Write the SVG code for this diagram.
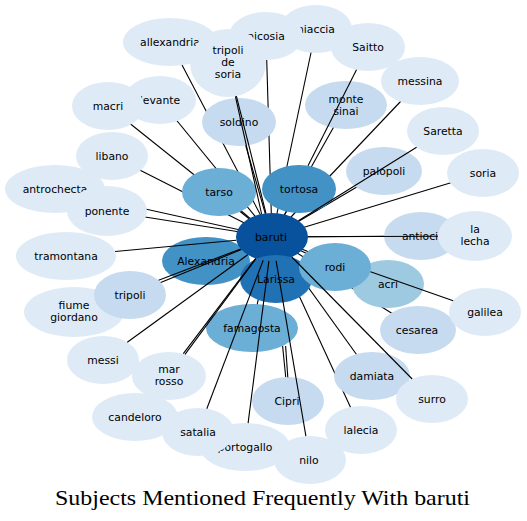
<svg xmlns="http://www.w3.org/2000/svg" width="527" height="521" viewBox="0 0 527 521">
<style>
.e line{stroke:#000;stroke-width:1.1;fill:none}
.n text{font-family:"DejaVu Sans",sans-serif;font-size:10.8px;fill:#000;text-anchor:middle}
.c1{fill:#08519c}.c2{fill:#2171b5}.c3{fill:#4292c6}.c4{fill:#6baed6}.c5{fill:#9ecae1}.c6{fill:#c6dbef}.c7{fill:#deebf7}
.title{font-family:"Liberation Serif","Times New Roman",serif;font-size:22px;fill:#000;text-anchor:middle}
</style>
<rect width="527" height="521" fill="#fff"/>
<g id="connectors-back" class="e">
<line x1="272" y1="237" x2="170" y2="42"/>
<line x1="272" y1="237" x2="160" y2="100"/>
<line x1="272" y1="237" x2="108" y2="106"/>
<line x1="272" y1="237" x2="112" y2="156"/>
<line x1="272" y1="237" x2="55" y2="189"/>
<line x1="272" y1="237" x2="107" y2="211"/>
<line x1="272" y1="237" x2="239" y2="122"/>
<line x1="272" y1="237" x2="219" y2="192"/>
<line x1="272" y1="237" x2="299" y2="189"/>
<line x1="272" y1="237" x2="266" y2="36"/>
<line x1="272" y1="237" x2="316" y2="29"/>
<line x1="272" y1="237" x2="346" y2="105"/>
<line x1="272" y1="237" x2="420" y2="81"/>
<line x1="272" y1="237" x2="384" y2="171"/>
<line x1="272" y1="237" x2="483" y2="173"/>
<line x1="272" y1="237" x2="421" y2="236"/>
<line x1="272" y1="237" x2="335" y2="267"/>
<line x1="272" y1="237" x2="388" y2="284"/>
<line x1="272" y1="237" x2="418" y2="330"/>
<line x1="272" y1="237" x2="206" y2="261"/>
<line x1="272" y1="237" x2="276" y2="279"/>
<line x1="272" y1="237" x2="252" y2="328"/>
<line x1="272" y1="237" x2="372" y2="376"/>
<line x1="272" y1="237" x2="361" y2="430"/>
</g>
<g id="nodes" class="n">
<g id="n-niaccia"><ellipse class="c7" cx="316" cy="29" rx="36" ry="24"/><text x="316" y="33">niaccia</text></g>
<g id="n-nicosia"><ellipse class="c7" cx="266" cy="36" rx="37" ry="24"/><text x="266" y="40">nicosia</text></g>
<g id="n-allexandria"><ellipse class="c7" cx="170" cy="42" rx="47" ry="24"/><text x="170" y="46">allexandria</text></g>
<g id="n-tripoli-de-soria"><ellipse class="c7" cx="228" cy="63" rx="38" ry="34"/><text x="228" y="54">tripoli</text><text x="228" y="66">de</text><text x="228" y="78">soria</text></g>
<g id="n-saitto"><ellipse class="c7" cx="368" cy="47" rx="37" ry="24"/><text x="368" y="51">Saitto</text></g>
<g id="n-messina"><ellipse class="c7" cx="420" cy="81" rx="39" ry="24"/><text x="420" y="85">messina</text></g>
<g id="n-monte-sinai"><ellipse class="c6" cx="346" cy="105" rx="41" ry="24"/><text x="346" y="103">monte</text><text x="346" y="115">sinai</text></g>
<g id="n-saretta"><ellipse class="c7" cx="443" cy="131" rx="36" ry="24"/><text x="443" y="135">Saretta</text></g>
<g id="n-palopoli"><ellipse class="c6" cx="384" cy="171" rx="38" ry="24"/><text x="384" y="175">palopoli</text></g>
<g id="n-soria"><ellipse class="c7" cx="483" cy="173" rx="36" ry="24"/><text x="483" y="177">soria</text></g>
<g id="n-soldino"><ellipse class="c6" cx="239" cy="122" rx="37" ry="24"/><text x="239" y="126">soldino</text></g>
<g id="n-levante"><ellipse class="c7" cx="160" cy="100" rx="36" ry="24"/><text x="160" y="104">levante</text></g>
<g id="n-macri"><ellipse class="c7" cx="108" cy="106" rx="36" ry="24"/><text x="108" y="110">macri</text></g>
<g id="n-libano"><ellipse class="c7" cx="112" cy="156" rx="36" ry="24"/><text x="112" y="160">libano</text></g>
<g id="n-antrochecta"><ellipse class="c7" cx="55" cy="189" rx="50" ry="24"/><text x="55" y="193">antrochecta</text></g>
<g id="n-ponente"><ellipse class="c7" cx="107" cy="211" rx="40" ry="25"/><text x="107" y="215">ponente</text></g>
<g id="n-tarso"><ellipse class="c4" cx="219" cy="192" rx="37" ry="24"/><text x="219" y="196">tarso</text></g>
<g id="n-tortosa"><ellipse class="c3" cx="299" cy="189" rx="37" ry="24"/><text x="299" y="193">tortosa</text></g>
<g id="n-tramontana"><ellipse class="c7" cx="66" cy="256" rx="50" ry="24"/><text x="66" y="260">tramontana</text></g>
<g id="n-fiume-giordano"><ellipse class="c7" cx="74" cy="312" rx="50" ry="25"/><text x="74" y="309">fiume</text><text x="74" y="321">giordano</text></g>
<g id="n-tripoli"><ellipse class="c6" cx="130" cy="295" rx="36" ry="24"/><text x="130" y="299">tripoli</text></g>
<g id="n-alexandria"><ellipse class="c3" cx="206" cy="261" rx="44" ry="24"/><text x="206" y="265">Alexandria</text></g>
<g id="n-baruti"><ellipse class="c1" cx="272" cy="237" rx="36" ry="24"/><text x="271" y="241">baruti</text></g>
<g id="n-larissa"><ellipse class="c2" cx="276" cy="279" rx="36" ry="24"/><text x="276" y="283">Larissa</text></g>
<g id="n-acri"><ellipse class="c5" cx="388" cy="284" rx="36" ry="24"/><text x="388" y="288">acri</text></g>
<g id="n-rodi"><ellipse class="c4" cx="335" cy="267" rx="36" ry="24"/><text x="335" y="271">rodi</text></g>
<g id="n-antioci"><ellipse class="c6" cx="421" cy="236" rx="37" ry="24"/><text x="420" y="240">antioci</text></g>
<g id="n-la-lecha"><ellipse class="c7" cx="475" cy="236" rx="37" ry="25"/><text x="475" y="233">la</text><text x="475" y="245">lecha</text></g>
<g id="n-cesarea"><ellipse class="c6" cx="418" cy="330" rx="38" ry="24"/><text x="417" y="334">cesarea</text></g>
<g id="n-galilea"><ellipse class="c7" cx="485" cy="312" rx="36" ry="24"/><text x="485" y="316">galilea</text></g>
<g id="n-famagosta"><ellipse class="c4" cx="252" cy="328" rx="46" ry="24"/><text x="252" y="332">famagosta</text></g>
<g id="n-messi"><ellipse class="c7" cx="103" cy="360" rx="36" ry="24"/><text x="103" y="364">messi</text></g>
<g id="n-candeloro"><ellipse class="c7" cx="135" cy="417" rx="43" ry="24"/><text x="135" y="421">candeloro</text></g>
<g id="n-mar-rosso"><ellipse class="c7" cx="169" cy="376" rx="37" ry="24"/><text x="169" y="373">mar</text><text x="169" y="385">rosso</text></g>
<g id="n-portogallo"><ellipse class="c7" cx="245" cy="447" rx="45" ry="24"/><text x="245" y="451">portogallo</text></g>
<g id="n-satalia"><ellipse class="c7" cx="198" cy="432" rx="36" ry="24"/><text x="198" y="436">satalia</text></g>
<g id="n-cipri"><ellipse class="c6" cx="288" cy="401" rx="36" ry="24"/><text x="287" y="405">Cipri</text></g>
<g id="n-nilo"><ellipse class="c7" cx="310" cy="460" rx="36" ry="24"/><text x="309" y="464">nilo</text></g>
<g id="n-lalecia"><ellipse class="c7" cx="361" cy="430" rx="36" ry="24"/><text x="361" y="434">lalecia</text></g>
<g id="n-damiata"><ellipse class="c6" cx="372" cy="376" rx="38" ry="24"/><text x="372" y="380">damiata</text></g>
<g id="n-surro"><ellipse class="c7" cx="432" cy="399" rx="36" ry="24"/><text x="432" y="403">surro</text></g>
</g>
<g id="connectors-front" class="e">
<line x1="236.4" y1="96.2" x2="266" y2="213.3"/>
<line x1="235.4" y1="96.4" x2="261.6" y2="214"/>
<line x1="356.5" y1="69.8" x2="308" y2="165.8"/>
<line x1="416.6" y1="147.3" x2="298.4" y2="220.7"/>
<line x1="438" y1="236.2" x2="308" y2="236.8"/>
<line x1="370.5" y1="271.7" x2="453.2" y2="300.8"/>
<line x1="291.8" y1="257" x2="412.2" y2="379"/>
<line x1="276.1" y1="260.8" x2="305.9" y2="436.2"/>
<line x1="282.6" y1="346" x2="285.7" y2="377"/>
<line x1="285.6" y1="346" x2="287.8" y2="377.2"/>
<line x1="263.2" y1="260.3" x2="206.8" y2="408.7"/>
<line x1="268.9" y1="260.9" x2="248.1" y2="423.1"/>
<line x1="256.1" y1="258.5" x2="185" y2="354.4"/>
<line x1="255.7" y1="258.4" x2="183.3" y2="353.6"/>
<line x1="247.7" y1="254.7" x2="127.3" y2="342.3"/>
<line x1="241.3" y1="249.5" x2="160.7" y2="282.5"/>
<line x1="240.7" y1="248.9" x2="158.6" y2="280.2"/>
<line x1="236.3" y1="240.3" x2="115.1" y2="251.5"/>
</g>
<text class="title" x="262.5" y="505" textLength="415" lengthAdjust="spacingAndGlyphs">Subjects Mentioned Frequently With baruti</text>
</svg>
